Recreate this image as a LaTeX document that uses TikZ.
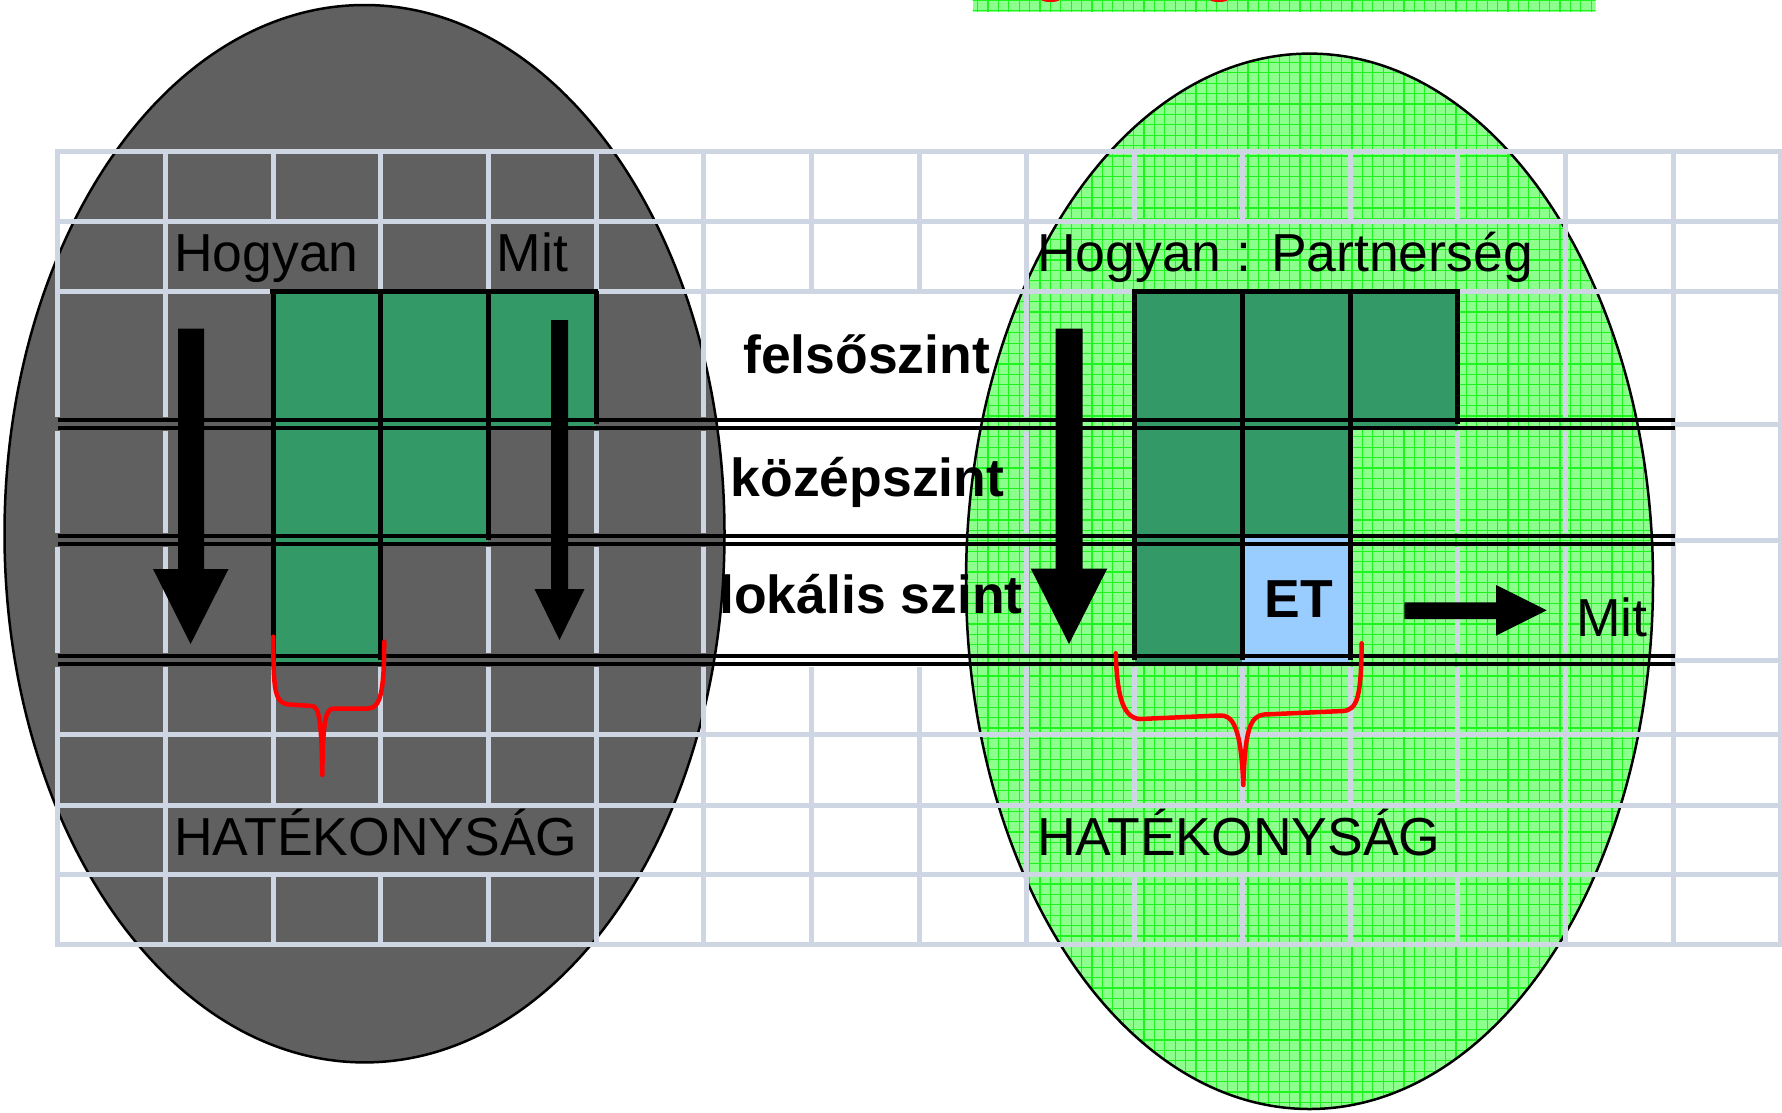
\documentclass[tikz,border=0pt]{standalone}
\usepackage{fontspec}
\setmainfont{Liberation Sans}

\definecolor{ellgray}{RGB}{96,96,96}
\definecolor{cellgreen}{RGB}{51,153,102}
\definecolor{cellblue}{RGB}{153,204,255}
\definecolor{lightgreen}{RGB}{140,255,140}
\definecolor{patgreen}{RGB}{30,245,30}
\definecolor{gridblue}{RGB}{206,214,228}

\tikzset{
  szoveg/.style={font=\fontsize{53.5}{64}\selectfont, inner sep=0pt, anchor=base west},
  szint/.style={font=\bfseries\fontsize{53.5}{64}\selectfont, inner sep=0pt, anchor=base},
  racs/.style={draw=gridblue, line width=5pt},
  fekete/.style={draw=black, line width=5pt},
  dupla/.style={draw=black, line width=4.2pt},
  nyil/.style={fill=black},
  kapocs/.style={draw=red, line width=4.5pt, line cap=round, line join=round},
  minta/.style={draw=patgreen, line width=1.1pt},
}

\begin{document}
\begin{tikzpicture}[x=1pt,y=-1pt]
  \useasboundingbox (0,0) rectangle (1782,1112);
  \fill[white] (0,0) rectangle (1782,1112);

  % Disegno delle ellissi
  \filldraw[fill=ellgray, draw=black, line width=2.5pt] (364.5,533.7) ellipse (360pt and 528.7pt);
  \begin{scope}
    \clip (1309.5,581.3) ellipse (343.5pt and 527.7pt);
    \fill[lightgreen] (960,50) rectangle (1660,1112);
    \draw[minta, step=10.4pt] (960,50) grid (1660,1112);
  \end{scope}
  \draw[black, line width=2.5pt] (1309.5,581.3) ellipse (343.5pt and 527.7pt);

  % Rettangolo in alto
  \begin{scope}
    \clip (972.6,-2) rectangle (1595.5,11.7);
    \fill[lightgreen] (972.6,-2) rectangle (1595.5,11.7);
    \draw[minta, step=10.4pt] (960,-10) grid (1600,12);
  \end{scope}
  \fill[red] (1050.5,0) ellipse (8.5pt and 2pt);
  \fill[red] (1218.8,0) ellipse (8.5pt and 2pt);

  % Griglia della tabella
  \foreach \y in {151.8,221.4,291,734,805,874.5,944.5}
    \draw[racs, line cap=rect] (57.6,\y) -- (1780.6,\y);
  \foreach \y in {424,540,660}
    \draw[racs] (1672,\y) -- (1780.6,\y);
  \foreach \k in {0,...,14}
    \draw[racs] ({57.6+107.7*\k},151.8) -- ({57.6+107.7*\k},221.4);
  \foreach \k in {0,1,3,4,5,6,7,8,9,14}
    \draw[racs] ({57.6+107.7*\k},221.4) -- ({57.6+107.7*\k},291);
  \foreach \t/\b in {291/417.4,430.6/533.4,546.6/653.4}
    \foreach \k in {0,1,2,3,4,5,6,9,10,11,12,13,14}
      \draw[racs] ({57.6+107.7*\k},\t) -- ({57.6+107.7*\k},\b);
  \foreach \t/\b in {666.6/734,734/805,874.5/944.5}
    \foreach \k in {0,...,14}
      \draw[racs] ({57.6+107.7*\k},\t) -- ({57.6+107.7*\k},\b);
  \foreach \k in {0,1,5,6,7,8,9,14}
    \draw[racs] ({57.6+107.7*\k},805) -- ({57.6+107.7*\k},874.5);
  \foreach \k in {15,16}
    \draw[racs] ({57.6+107.7*\k},151.8) -- ({57.6+107.7*\k},944.5);

  % Celle colorate
  \foreach \k in {2,3,4,10,11,12}
    \fill[cellgreen] ({57.6+107.7*\k},291) rectangle ({57.6+107.7*(\k+1)},428.7);
  \foreach \k in {2,3,10,11}
    \fill[cellgreen] ({57.6+107.7*\k},419.3) rectangle ({57.6+107.7*(\k+1)},544.7);
  \foreach \k in {2,10}
    \fill[cellgreen] ({57.6+107.7*\k},535.3) rectangle ({57.6+107.7*(\k+1)},664.7);
  \fill[cellblue] ({57.6+107.7*11},535.3) rectangle ({57.6+107.7*12},664.7);

  % Linee nere
  \foreach \y in {424,540,660} {
    \draw[dupla] (57.6,{\y-4.3}) -- (1675,{\y-4.3});
    \draw[dupla] (57.6,{\y+4.3}) -- (1675,{\y+4.3});
  }
  \draw[fekete, line cap=rect] (272.8,291) -- (595.9,291);
  \draw[fekete, line cap=rect] (1134.4,291) -- (1457.5,291);
  \foreach \k/\b in {2/660,3/660,4/540,5/424,10/660,11/660,12/660,13/424}
    \draw[fekete] ({57.6+107.7*\k},291) -- ({57.6+107.7*\k},\b);

  % Testi
  \node[szoveg] (hogyanB) at (174,271.4) {Hogyan};
  \node[szoveg] (mitB) at (496.6,271.4) {Mit};
  \node[szoveg] (hatekB) at (174,855) {HATÉKONYSÁG};
  \node[szoveg] (hogyanJ) at (1037,271.4) {Hogyan : Partnerség};
  \node[szoveg] (hatekJ) at (1037,855.6) {HATÉKONYSÁG};
  \node[szoveg] (mitJ) at (1576,636) {Mit};
  \node[szint] (felso) at (866.7,373.3) {felsőszint};
  \node[szint] (kozep) at (867.5,496.7) {középszint};
  \node[szint] (lokalis) at (871,613.3) {lokális szint};
  \node[szint] (et) at (1299,617.3) {ET};

  % Frecce
  \fill[nyil] (178,328.6) -- (204,328.6) -- (204,569) -- (228.5,569) -- (190.6,644)
    -- (153,569) -- (178,569) -- cycle;
  \fill[nyil] (551,320) -- (568,320) -- (568,589) -- (584.5,589) -- (559.5,640)
    -- (534.5,589) -- (551,589) -- cycle;
  \fill[nyil] (1055.5,328.6) -- (1082.5,328.6) -- (1082.5,568.5) -- (1107.3,568.5) -- (1069,644)
    -- (1030.7,568.5) -- (1055.5,568.5) -- cycle;
  \fill[nyil] (1404.3,602.3) -- (1496,602.3) -- (1496,585) -- (1546.7,610.3) -- (1496,635.7)
    -- (1496,619) -- (1404.3,619) -- cycle;

  % Parentesi graffe
  \draw[kapocs] (273.3,636.7) .. controls (273.5,690) and (274,704) .. (290,704.5)
    -- (312,706) .. controls (319,706.5) and (321.5,720) .. (322.3,775)
    .. controls (323,722) and (325,708.5) .. (334,708.5)
    -- (368,708.5) .. controls (381,708.5) and (384,690) .. (384.3,641.7);
  \draw[kapocs] (1115.7,653.3) .. controls (1117,690) and (1121,718) .. (1140,719)
    -- (1220,715.5) .. controls (1232,715) and (1241,725) .. (1243.3,785)
    .. controls (1245,730) and (1250,716) .. (1264,714.5)
    -- (1343,711) .. controls (1358,710) and (1361,695) .. (1361.7,643.3);
\end{tikzpicture}
\end{document}
